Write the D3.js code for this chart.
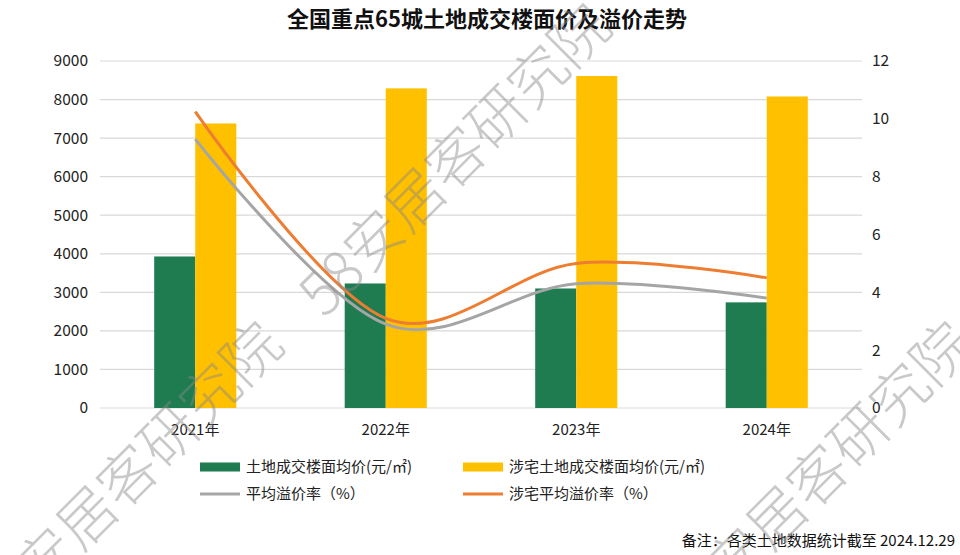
<!DOCTYPE html>
<meta charset="utf-8" />
<style>
  body { margin: 0; background: #fff; }
  text { font-family: "Noto Sans CJK SC", "Noto Sans", sans-serif; }
</style>
<svg width="960" height="555"></svg>
<script src="https://d3js.org/d3.v7.min.js"></script>
<script>
    // data
    var years = ["2021年", "2022年", "2023年", "2024年"];
    var landPrice = [3930, 3230, 3100, 2740];      // 土地成交楼面均价
    var resPrice = [7380, 8290, 8610, 8080];       // 涉宅土地成交楼面均价
    var premium = [9.3, 2.9, 4.3, 3.8];            // 平均溢价率
    var resPremium = [10.25, 3.1, 5.0, 4.5];       // 涉宅平均溢价率
    var leftTicks = [0, 1000, 2000, 3000, 4000, 5000, 6000, 7000, 8000, 9000];
    var rightTicks = [0, 2, 4, 6, 8, 10, 12];

    var svg = d3.select("svg");
    var plotL = 100, plotR = 862, plotT = 61, plotB = 408;

    var x0 = d3.scaleBand().domain(years).range([plotL, plotR]).padding(0);
    var x1 = d3.scaleBand().domain(["land", "res"]).range([0, x0.bandwidth()]).paddingOuter(1.32);
    var yL = d3.scaleLinear().domain([0, 9000]).range([plotB, plotT]);
    var yR = d3.scaleLinear().domain([0, 12]).range([plotB, plotT]);

    // title
    svg.append("text")
        .attr("x", 487).attr("y", 27)
        .attr("text-anchor", "middle")
        .attr("font-size", 22).attr("font-weight", "bold")
        .attr("fill", "#111")
        .text("全国重点65城土地成交楼面价及溢价走势");

    // grid
    svg.append("g").selectAll("line")
        .data(leftTicks)
        .enter().append("line")
        .attr("x1", plotL).attr("x2", plotR)
        .attr("y1", function(d) { return yL(d); })
        .attr("y2", function(d) { return yL(d); })
        .attr("stroke", "#d9d9d9")
        .attr("stroke-width", 1.2);

    // left axis
    var axL = svg.append("g")
        .attr("transform", "translate(" + (plotL - 12) + ",0)")
        .call(d3.axisLeft(yL).tickValues(leftTicks).tickSize(0).tickPadding(0).tickFormat(d3.format("d")));
    axL.select(".domain").remove();
    axL.selectAll("text").attr("font-size", 15.5).attr("fill", "#222")
        .attr("font-family", "'Open Sans', sans-serif");

    // right axis
    var axR = svg.append("g")
        .attr("transform", "translate(" + (plotR + 10) + ",0)")
        .call(d3.axisRight(yR).tickValues(rightTicks).tickSize(0).tickPadding(0));
    axR.select(".domain").remove();
    axR.selectAll("text").attr("font-size", 15.5).attr("fill", "#222")
        .attr("font-family", "'Open Sans', sans-serif");

    // x axis labels
    var axX = svg.append("g")
        .attr("transform", "translate(0," + (plotB + 16) + ")")
        .call(d3.axisBottom(x0).tickSize(0).tickPadding(0));
    axX.select(".domain").remove();
    axX.selectAll("text").attr("font-size", 15).attr("fill", "#222")
        .attr("dy", "0.75em");

    // bars
    var groups = svg.append("g").selectAll("g")
        .data(years)
        .enter().append("g")
        .attr("transform", function(d) { return "translate(" + x0(d) + ",0)"; });

    groups.append("rect")
        .attr("x", x1("land"))
        .attr("width", x1.bandwidth())
        .attr("y", function(d, i) { return yL(landPrice[i]); })
        .attr("height", function(d, i) { return yL(0) - yL(landPrice[i]); })
        .attr("fill", "#1f7c50");

    groups.append("rect")
        .attr("x", x1("res"))
        .attr("width", x1.bandwidth())
        .attr("y", function(d, i) { return yL(resPrice[i]); })
        .attr("height", function(d, i) { return yL(0) - yL(resPrice[i]); })
        .attr("fill", "#ffc000");

    // smoothed lines
    var line = d3.line()
        .x(function(d, i) { return x0(years[i]) + x1("res"); })
        .y(function(d) { return yR(d); })
        .curve(d3.curveCatmullRom.alpha(0));

    svg.append("path").datum(premium)
        .attr("d", line).attr("fill", "none")
        .attr("stroke", "#a5a5a5").attr("stroke-width", 3);
    svg.append("path").datum(resPremium)
        .attr("d", line).attr("fill", "none")
        .attr("stroke", "#ed7d31").attr("stroke-width", 3);

    // legend
    var legend = [
        { name: "土地成交楼面均价(元/㎡)", color: "#1f7c50", type: "bar", x: 200, y: 467 },
        { name: "涉宅土地成交楼面均价(元/㎡)", color: "#ffc000", type: "bar", x: 463, y: 467 },
        { name: "平均溢价率（%）", color: "#a5a5a5", type: "line", x: 200, y: 494 },
        { name: "涉宅平均溢价率（%）", color: "#ed7d31", type: "line", x: 463, y: 494 }
    ];
    var lg = svg.append("g").selectAll("g")
        .data(legend)
        .enter().append("g")
        .attr("transform", function(d) { return "translate(" + d.x + "," + d.y + ")"; });
    lg.append("rect")
        .attr("x", 0).attr("width", 40)
        .attr("y", function(d) { return d.type == "bar" ? -4.5 : -1.5; })
        .attr("height", function(d) { return d.type == "bar" ? 9 : 3; })
        .attr("fill", function(d) { return d.color; });
    lg.append("text")
        .attr("x", 46).attr("dy", "0.35em")
        .attr("font-size", 15).attr("fill", "#222")
        .text(function(d) { return d.name; });

    // note
    svg.append("text")
        .attr("x", 955).attr("y", 546)
        .attr("text-anchor", "end")
        .attr("font-size", 15).attr("fill", "#111")
        .text("备注：各类土地数据统计截至 2024.12.29");

    // watermarks
    var marks = [[600, 15], [272, 333], [962, 333]];
    svg.append("g").selectAll("text")
        .data(marks)
        .enter().append("text")
        .attr("transform", function(d) { return "translate(" + d[0] + "," + d[1] + ") rotate(-45)"; })
        .attr("text-anchor", "end")
        .attr("dy", "0.35em")
        .attr("font-size", 58)
        .attr("font-weight", 200)
        .attr("fill", "#888")
        .attr("fill-opacity", 0.45)
        .text("58安居客研究院");
</script>
